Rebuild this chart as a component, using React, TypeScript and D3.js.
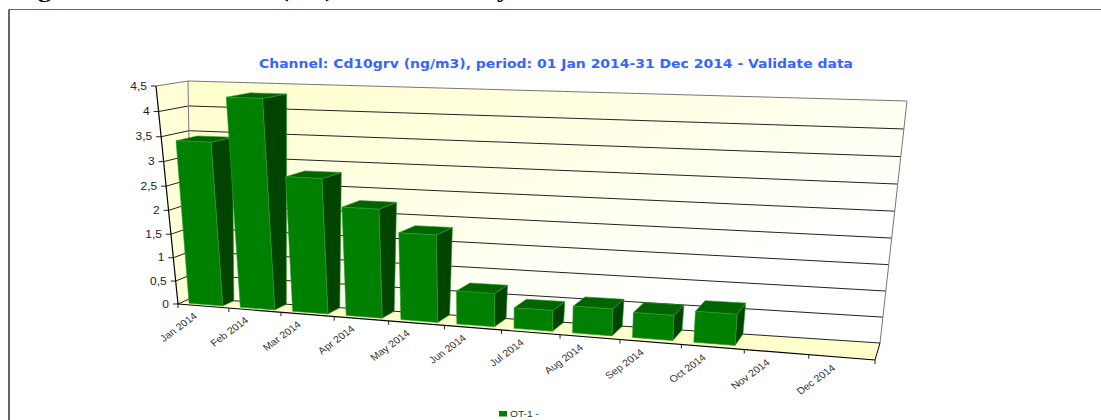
import React from "react";
import * as d3 from "d3";

const months = ["Jan 2014","Feb 2014","Mar 2014","Apr 2014","May 2014","Jun 2014","Jul 2014","Aug 2014","Sep 2014","Oct 2014","Nov 2014","Dec 2014"];
const cd10 = [3.4,4.3,2.78,2.23,1.78,0.68,0.42,0.54,0.5,0.61];
const yTicks = [0,0.5,1,1.5,2,2.5,3,3.5,4,4.5];
const yLabels = ["0","0,5","1","1,5","2","2,5","3","3,5","4","4,5"];
const clippedHeading = [{t:"g",x:38},{t:"(",x:280},{t:")",x:325},{t:"y",x:497}];

type P = [number, number];

function homography(c00: P, c10: P, c01: P, c11: P) {
  const [x0,y0]=c00,[x1,y1]=c10,[x3,y3]=c01,[x2,y2]=c11;
  const dx1=x1-x2,dx2=x3-x2,dx3=x0-x1+x2-x3;
  const dy1=y1-y2,dy2=y3-y2,dy3=y0-y1+y2-y3;
  const det=dx1*dy2-dx2*dy1;
  const g=(dx3*dy2-dx2*dy3)/det,h=(dx1*dy3-dx3*dy1)/det;
  const a=x1-x0+g*x1,b=x3-x0+h*x3,d=y1-y0+g*y1,e=y3-y0+h*y3;
  return (s:number,t:number):P=>{const k=g*s+h*t+1;return [(a*s+b*t+x0)/k,(d*s+e*t+y0)/k];};
}

const uScale = d3.scaleLinear().domain([0,12]).range([0,1]);
const vScale = d3.scaleLinear().domain([0,4.5]).range([0,1]);
const front = homography([178,304],[875,360],[156,86],[900,110]);
const back = homography([191.5,298],[880,343],[188,81],[907,101]);
const project = (u:number,v:number,w:number):P=>{
  const f=front(uScale(u),vScale(v)),b=back(uScale(u),vScale(v));
  return [f[0]+(b[0]-f[0])*w,f[1]+(b[1]-f[1])*w];
};
const poly=(pts:P[])=>d3.line()(pts)+"Z";
const seg=(a:P,b:P)=>d3.line()([a,b])!;

const W0=0.22,W1=1.0,U0=0.16,U1=0.82;
const sans="'Liberation Sans', Arial, sans-serif";
const SX=1.14;

export default function App(){
  return (
    <svg width={1101} height={420} style={{position:"absolute",left:0,top:0,background:"#fff"}}>
      <defs>
        <linearGradient id="wall" x1="0" y1="0" x2="1" y2="1">
          <stop offset="0" stopColor="#ffffcc"/>
          <stop offset="0.75" stopColor="#ffffff"/>
        </linearGradient>
      </defs>
      {clippedHeading.map(h=>(
        <text key={h.t} transform={`translate(${h.x},-3) scale(1.2,1)`} fontFamily="'Liberation Serif', serif" fontWeight="bold" fontSize={22} fill="#000">{h.t}</text>
      ))}
      <path d="M1101 9.5H9V420" fill="none" stroke="#666" strokeWidth={1}/>
      <path d="M9 9.5V420" fill="none" stroke="#666" strokeWidth={2}/>
      <text x={259} y={68} textLength={594} lengthAdjust="spacingAndGlyphs" fontFamily="'DejaVu Sans', Verdana, sans-serif" fontWeight="bold" fontSize={11.5} fill="#3366ff">Channel: Cd10grv (ng/m3), period: 01 Jan 2014-31 Dec 2014 - Validate data</text>

      <path d={poly([project(0,4.5,1),project(12,4.5,1),project(12,0,1),project(0,0,1)])} fill="url(#wall)"/>
      <path d={poly([project(0,4.5,0),project(0,4.5,1),project(0,0,1),project(0,0,0)])} fill="#ffffd8"/>
      <path d={poly([project(0,0,0),project(0,0,1),project(12,0,1),project(12,0,0)])} fill="#ffffcc"/>

      {yTicks.map((t,i)=>{
        const p=project(0,t,0);
        return (
        <g key={t}>
          <path d={seg(p,project(0,t,1))} stroke={i===9?"#777":"#222"} fill="none"/>
          <path d={seg(project(0,t,1),project(12,t,1))} stroke={i===9?"#777":"#222"} fill="none"/>
          <path d={seg(p,[p[0]-5,p[1]])} stroke="#222" fill="none"/>
          <text transform={`translate(${p[0]-9},${p[1]+3.5}) scale(${SX},1)`} textAnchor="end" fontFamily={sans} fontSize={10.5} fill="#222">{yLabels[i]}</text>
        </g>
      );})}
      <path d={seg(project(0,0,1),project(0,4.5,1))} stroke="#777" fill="none"/>
      <path d={seg(project(12,0,1),project(12,4.5,1))} stroke="#777" fill="none"/>
      <path d={seg(project(0,0,0),project(0,4.5,0))} stroke="#000" strokeWidth={1.2} fill="none"/>
      <path d={seg(project(0,0,0),project(12,0,0))} stroke="#000" strokeWidth={1.2} fill="none"/>
      <path d={seg(project(12,0,0),project(12,0,1))} stroke="#000" fill="none"/>

      {d3.range(13).map(i=>{
        const p=project(i,0,0);
        return <path key={i} d={seg(p,[p[0],p[1]+4])} stroke="#222" fill="none"/>;
      })}
      {months.map((m,i)=>{
        const p=project(i+1,0,0);
        const dx=-31-8*i/11;
        return <text key={m} transform={`translate(${p[0]+dx},${p[1]+9}) scale(${SX},1) rotate(-40)`} textAnchor="end" fontFamily={sans} fontSize={9.5} fill="#333">{m}</text>;
      })}

      {cd10.map((v,i)=>{
        const a=i+U0,b=i+U1;
        const fbl=project(a,0,W0),fbr=project(b,0,W0),ftl=project(a,v,W0),ftr=project(b,v,W0);
        const bbr=project(b,0,W1),btr=project(b,v,W1),btl=project(a,v,W1);
        return (
          <g key={months[i]} stroke="#2f9a2f" strokeWidth={0.6} strokeLinejoin="round">
            <path d={poly([ftr,btr,bbr,fbr])} fill="#004400"/>
            <path d={poly([ftl,btl,btr,ftr])} fill="#006400"/>
            <path d={poly([fbl,fbr,ftr,ftl])} fill="#008000"/>
          </g>
        );
      })}

      <rect x={499} y={411} width={8} height={5.5} fill="#008000"/>
      <text transform={`translate(510,416.5) scale(1.2,1)`} fontFamily={sans} fontSize={8.5} fill="#333">OT-1 -</text>
    </svg>
  );
}
